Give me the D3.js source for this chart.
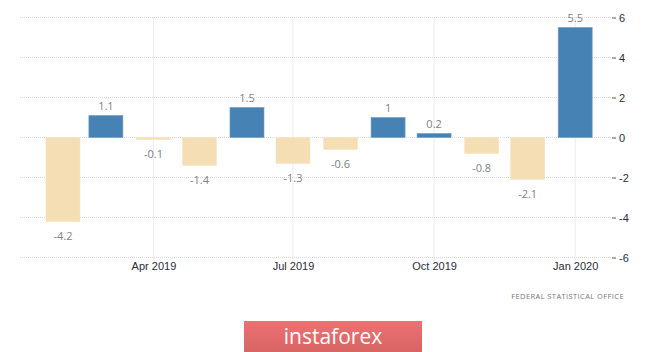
<!DOCTYPE html>
<html>
<head>
<meta charset="utf-8">
<script src="https://cdn.jsdelivr.net/npm/d3@7"></script>
<style>
  body { margin: 0; background: #fff; }
  svg { display: block; font-family: "Open Sans", "Liberation Sans", Arial, sans-serif; }
</style>
</head>
<body>
<div id="grafiek"></div>
<script>
// maanden en waarden (mom %)
var months = ["2019-02", "2019-03", "2019-04", "2019-05", "2019-06", "2019-07",
              "2019-08", "2019-09", "2019-10", "2019-11", "2019-12", "2020-01"];
var values = [-4.2, 1.1, -0.1, -1.4, 1.5, -1.3, -0.6, 1, 0.2, -0.8, -2.1, 5.5];
var yTicks = [-6, -4, -2, 0, 2, 4, 6];
var xTicks = ["2019-04", "2019-07", "2019-10", "2020-01"];

var parse = d3.timeParse("%Y-%m");
var data = months.map(function(m, i) { return { date: parse(m), value: values[i] }; });

var width = 665, height = 352;
var plotLeft = 20, plotRight = 612, plotTop = 17.5, plotBottom = 257.5;
var barWidth = 34;

var svg = d3.select("#grafiek").append("svg")
    .attr("width", width)
    .attr("height", height);

var x = d3.scaleTime()
    .domain([new Date(2019, 0, 4), new Date(2020, 0, 25)])
    .range([plotLeft, plotRight]);

var y = d3.scaleLinear()
    .domain([-6, 6])
    .range([plotBottom, plotTop]);

// horizontale rasterlijnen
svg.append("g").selectAll("line")
    .data(yTicks).enter().append("line")
    .attr("x1", plotLeft).attr("x2", plotRight)
    .attr("y1", function(d) { return y(d); })
    .attr("y2", function(d) { return y(d); })
    .attr("stroke", "#d9d9d9")
    .attr("stroke-dasharray", "1,1");

// verticale rasterlijnen
svg.append("g").selectAll("line")
    .data(xTicks).enter().append("line")
    .attr("x1", function(d) { return x(parse(d)); })
    .attr("x2", function(d) { return x(parse(d)); })
    .attr("y1", plotTop).attr("y2", plotBottom + 3)
    .attr("stroke", "#d9d9d9")
    .attr("stroke-dasharray", "1,1");

// staafjes
svg.append("g").selectAll("rect")
    .data(data).enter().append("rect")
    .attr("x", function(d) { return x(d.date) - barWidth / 2; })
    .attr("y", function(d) { return y(Math.max(0, d.value)); })
    .attr("width", barWidth)
    .attr("height", function(d) { return Math.abs(y(d.value) - y(0)); })
    .attr("fill", function(d) { return d.value >= 0 ? "#4682b4" : "#f5deb3"; })
    .attr("stroke", function(d) { return d.value >= 0 ? "#6d9cc6" : "#f7e4c2"; })
    .attr("stroke-width", 0.6);

// waardelabels
svg.append("g").selectAll("text")
    .data(data).enter().append("text")
    .attr("x", function(d) { return x(d.date); })
    .attr("y", function(d) { return d.value >= 0 ? y(d.value) - 6 : y(d.value) + 18; })
    .attr("text-anchor", "middle")
    .attr("font-size", 11)
    .attr("fill", "#7d7f86")
    .text(function(d) { return d.value; });

// y-as rechts
var yAxis = d3.axisRight(y).tickValues(yTicks)
    .tickFormat(function(d) { return String(d); })
    .tickSize(4).tickPadding(3);
var gy = svg.append("g")
    .attr("transform", "translate(" + plotRight + ",0)")
    .call(yAxis);
gy.select(".domain").remove();
gy.selectAll("line").attr("stroke", "#555");
gy.selectAll("text").attr("font-size", 11).attr("fill", "#2b2b3a").attr("font-family", null);

// x-as onder
var xAxis = d3.axisBottom(x)
    .tickValues(xTicks.map(parse))
    .tickFormat(d3.timeFormat("%b %Y"))
    .tickSize(0).tickPadding(0);
var gx = svg.append("g")
    .attr("transform", "translate(0," + (plotBottom + 5) + ")")
    .call(xAxis);
gx.select(".domain").remove();
gx.selectAll("text").attr("font-size", 11).attr("fill", "#2b2b3a").attr("font-family", null);

// bron
svg.append("text")
    .attr("x", 624).attr("y", 298.5)
    .attr("text-anchor", "end")
    .attr("font-size", 7.5)
    .attr("letter-spacing", 0.4)
    .attr("fill", "#777")
    .text("FEDERAL  STATISTICAL  OFFICE");

// logo
var grad = svg.append("defs").append("linearGradient")
    .attr("id", "logo").attr("x1", 0).attr("x2", 0).attr("y1", 0).attr("y2", 1);
grad.append("stop").attr("offset", "0%").attr("stop-color", "#ec7272");
grad.append("stop").attr("offset", "100%").attr("stop-color", "#d86464");
svg.append("rect")
    .attr("x", 244).attr("y", 321)
    .attr("width", 178).attr("height", 31)
    .attr("fill", "url(#logo)");
svg.append("text")
    .attr("x", 333).attr("y", 344)
    .attr("text-anchor", "middle")
    .attr("font-size", 21)
    .attr("fill", "#fff")
    .text("instaforex");
</script>
</body>
</html>
